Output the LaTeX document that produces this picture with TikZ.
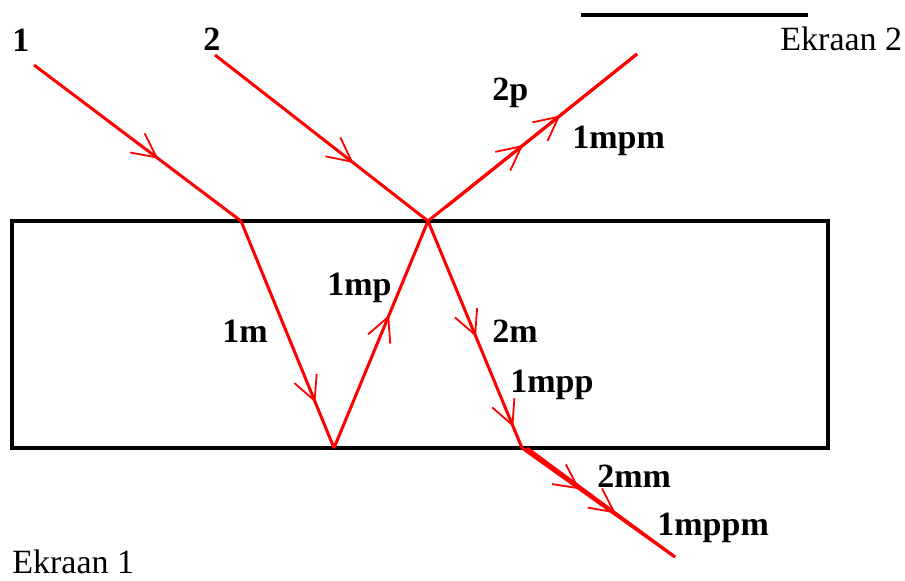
\documentclass[tikz,border=0pt]{standalone}
\usepackage{fontspec}
\setmainfont{Liberation Serif}
\usetikzlibrary{arrows.meta,decorations.markings}

\begin{document}
\begin{tikzpicture}[
  x=0.5pt, y=-0.5pt,
  straal/.style={draw=red, line width=1.5pt},
  pijl/.style={postaction={decorate, decoration={markings,
      mark=at position #1 with {\arrow[red]{Straight Barb[length=12pt, width=12pt, line width=0.9pt]}}}}},
  etiket/.style={font=\fontsize{17}{20}\selectfont\bfseries, anchor=base west, inner sep=0pt},
  scherm/.style={font=\fontsize{17}{20}\selectfont, anchor=base west, inner sep=0pt},
]
\useasboundingbox (0,0) rectangle (905,580);

% ---- Blok en schermen
\coordinate (blokLB) at (12,221);
\coordinate (blokRO) at (828,448);
\draw[line width=2pt] (blokLB) rectangle (blokRO);
\coordinate (ek2a) at (581,15);
\coordinate (ek2b) at (808,15);
\draw[line width=2pt] (ek2a) -- (ek2b);
\node[scherm] (ekraan2) at (780,50) {Ekraan 2};
\node[scherm] (ekraan1) at (12,573) {Ekraan 1};

% ---- Punten op de stralen
\coordinate (s1) at (34,65);
\coordinate (s2) at (215,55);
\coordinate (in1) at (241,221);
\coordinate (top) at (428,221);
\coordinate (bod1) at (334,448);
\coordinate (bod2) at (522,448);
\coordinate (bod2b) at (527,448);
\coordinate (top2) at (446,207);
\coordinate (uit1) at (637,54);
\coordinate (uit2) at (675,557);

% ---- Stralen
\draw[straal, pijl=0.6] (s1) -- (in1);
\draw[straal, pijl=0.65] (s2) -- (top);
\draw[straal, pijl=0.8] (in1) -- (bod1);
\draw[straal, pijl=0.586] (bod1) -- (top);
\draw[straal, pijl=0.51, pijl=0.907] (top) -- (bod2);
\draw[straal, pijl=0.455] (top) -- (uit1);
\draw[straal, pijl=0.6] (top2) -- (uit1);
\draw[straal, pijl=0.38] (bod2) -- (uit2);
\draw[straal, pijl=0.6] (bod2b) -- (uit2);

% ---- Namen van de stralen
\node[etiket] (n1) at (12,51) {1};
\node[etiket] (n2) at (203,50) {2};
\node[etiket] (n2p) at (492,100) {2p};
\node[etiket] (n1mpm) at (572,148) {1mpm};
\node[etiket] (n1mp) at (327,295) {1mp};
\node[etiket] (n1m) at (222,342) {1m};
\node[etiket] (n2m) at (492,342) {2m};
\node[etiket] (n1mpp) at (510,392) {1mpp};
\node[etiket] (n2mm) at (597,487) {2mm};
\node[etiket] (n1mppm) at (657,535) {1mppm};
\end{tikzpicture}
\end{document}
